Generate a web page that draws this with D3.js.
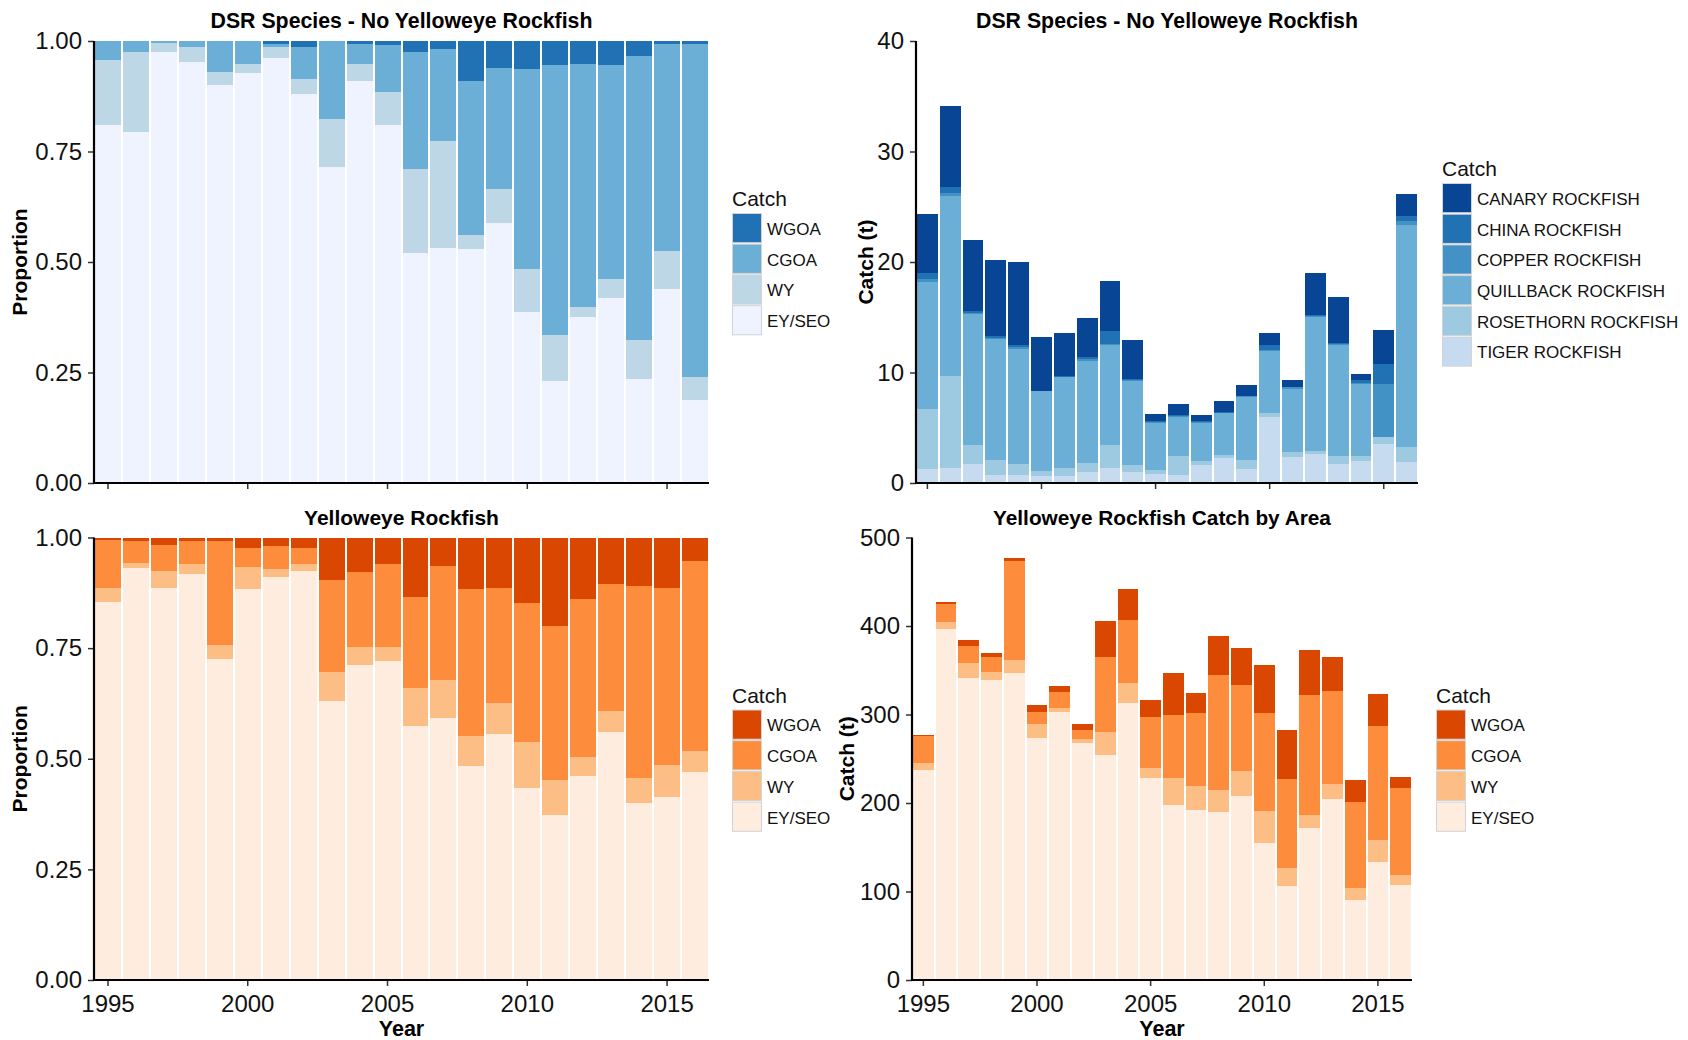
<!DOCTYPE html>
<html><head><meta charset="utf-8">
<script src="https://cdn.jsdelivr.net/npm/d3@7"></script>
<style>
body{margin:0;background:#fff;}
svg{display:block;font-family:"Liberation Sans",Arial,Helvetica,sans-serif;}
</style></head><body>
<svg id="chart" width="1688" height="1040"></svg>
<script>
// ---------- DATA ----------
const years = [1995,1996,1997,1998,1999,2000,2001,2002,2003,2004,2005,2006,2007,2008,2009,2010,2011,2012,2013,2014,2015,2016];
const xTickYears = [1995,2000,2005,2010,2015];

const areaKeys = ["EY/SEO","WY","CGOA","WGOA"];            // stacking order, bottom to top
const speciesKeys = ["TIGER ROCKFISH","ROSETHORN ROCKFISH","QUILLBACK ROCKFISH","COPPER ROCKFISH","CHINA ROCKFISH","CANARY ROCKFISH"];

// DSR (no yelloweye) proportion by area
const dsrPropEY   = [0.810,0.794,0.974,0.952,0.900,0.928,0.962,0.880,0.715,0.909,0.810,0.520,0.532,0.529,0.588,0.387,0.231,0.376,0.419,0.235,0.439,0.188];
const dsrPropWY   = [0.147,0.180,0.022,0.034,0.030,0.020,0.024,0.034,0.109,0.039,0.075,0.190,0.242,0.032,0.077,0.097,0.104,0.022,0.043,0.089,0.086,0.052];
const dsrPropCGOA = [0.043,0.026,0.004,0.014,0.070,0.052,0.008,0.072,0.176,0.046,0.106,0.265,0.208,0.349,0.274,0.453,0.611,0.550,0.484,0.642,0.469,0.754];
const dsrPropWGOA = [0.000,0.000,0.000,0.000,0.000,0.000,0.006,0.014,0.000,0.006,0.009,0.025,0.018,0.090,0.061,0.063,0.054,0.052,0.054,0.034,0.006,0.006];

// DSR (no yelloweye) catch (t) by species
const catchTiger     = [1.27,1.36,1.72,0.72,0.72,0.63,0.63,1.00,1.36,1.00,0.81,0.72,1.63,2.26,1.27,5.97,2.35,2.62,1.72,1.99,3.53,1.90];
const catchRosethorn = [5.43,8.32,1.72,1.36,1.00,0.46,0.73,0.81,2.08,0.63,0.37,1.72,0.36,0.27,0.81,0.36,0.46,0.28,0.72,0.45,0.63,1.36];
const catchQuillback = [11.49,16.29,11.85,10.95,10.41,7.24,8.23,9.23,9.05,7.60,4.25,3.53,3.44,3.80,5.70,5.62,5.74,12.12,10.05,6.52,0.00,20.09];
const catchCopper    = [0.27,0.27,0.11,0.07,0.18,0.01,0.04,0.18,0.09,0.09,0.09,0.09,0.09,0.05,0.05,0.09,0.10,0.09,0.09,0.09,4.80,0.36];
const catchChina     = [0.54,0.55,0.17,0.20,0.18,0.02,0.05,0.18,1.18,0.09,0.09,0.09,0.09,0.05,0.04,0.45,0.05,0.09,0.09,0.27,1.81,0.45];
const catchCanary    = [5.34,7.33,6.43,6.88,7.51,4.86,3.89,3.53,4.52,3.53,0.63,1.00,0.54,0.99,1.00,1.08,0.62,3.80,4.16,0.54,3.08,1.99];

// Yelloweye proportion by area
const yePropEY   = [0.855,0.930,0.886,0.918,0.726,0.884,0.911,0.925,0.631,0.711,0.720,0.573,0.591,0.483,0.555,0.435,0.374,0.462,0.561,0.399,0.413,0.471];
const yePropWY   = [0.031,0.013,0.039,0.023,0.032,0.050,0.017,0.014,0.064,0.042,0.033,0.086,0.088,0.068,0.070,0.102,0.079,0.041,0.046,0.057,0.072,0.046];
const yePropCGOA = [0.109,0.050,0.059,0.052,0.235,0.043,0.053,0.038,0.208,0.168,0.188,0.207,0.257,0.332,0.261,0.314,0.348,0.357,0.289,0.435,0.401,0.431];
const yePropWGOA = [0.005,0.007,0.016,0.007,0.007,0.023,0.019,0.023,0.097,0.079,0.059,0.134,0.064,0.117,0.114,0.149,0.199,0.140,0.104,0.109,0.114,0.052];

// Yelloweye catch (t) by area
const yeCatchEY   = [236.8,397.0,341.8,339.4,346.4,272.9,303.3,268.3,254.7,313.4,227.8,198.3,191.7,189.3,208.4,154.4,105.8,172.2,204.1,90.2,133.0,106.9];
const yeCatchWY   = [8.9,7.0,15.9,8.2,15.6,16.8,4.6,3.5,26.0,21.8,11.3,29.5,27.2,24.9,27.2,36.1,21.3,14.8,17.9,13.2,24.9,11.3];
const yeCatchCGOA = [29.5,21.3,20.2,17.9,112.0,13.6,17.9,11.2,84.8,71.9,57.6,71.2,83.2,129.9,97.2,111.6,99.6,134.5,105.0,97.2,128.6,98.4];
const yeCatchWGOA = [1.2,2.0,6.6,3.5,3.1,7.0,6.6,6.3,39.6,35.0,20.2,47.4,21.8,45.1,42.8,53.3,56.3,51.8,38.5,24.9,36.2,12.4];

const propTicks = [0,0.25,0.5,0.75,1];
const dsrCatchTicks = [0,10,20,30,40];
const yeCatchTicks = [0,100,200,300,400,500];

// ---------- STYLE ----------
const blueArea    = ["#eff3ff","#bdd7e7","#6baed6","#2171b5"];
const blueSpecies = ["#c6dbef","#9ecae1","#6baed6","#4292c6","#2171b5","#084594"];
const orangeArea  = ["#feedde","#fdbe85","#fd8d3c","#d94701"];

const svg = d3.select("#chart");

function panel(cfg){
  const g = svg.append("g");
  const x = d3.scaleBand().domain(years).range([cfg.x0, cfg.x1]).paddingInner(0).paddingOuter(0);
  const y = d3.scaleLinear().domain([0, cfg.ymax]).range([cfg.y1, cfg.y0]);
  const rows = years.map((yr,i)=>{const o={year:yr}; cfg.keys.forEach((k,j)=>o[k]=cfg.series[j][i]); return o;});
  const st = d3.stack().keys(cfg.keys);
  if (cfg.fill) st.offset(d3.stackOffsetExpand);
  const layers = st(rows);
  g.selectAll("g.layer").data(layers).join("g").attr("class","layer")
    .attr("fill",(d,i)=>cfg.colors[i])
    .selectAll("rect").data(d=>d).join("rect")
    .attr("shape-rendering","crispEdges")
    .attr("x",d=>x(d.data.year)+1)
    .attr("width",x.bandwidth()-2)
    .attr("y",d=>y(d[1]))
    .attr("height",d=>Math.max(0,y(d[0])-y(d[1])));

  // y axis
  const ya = g.append("g").attr("transform",`translate(${cfg.x0},0)`)
    .call(d3.axisLeft(y).tickValues(cfg.yticks).tickFormat(cfg.fmt).tickSizeInner(6).tickSizeOuter(0).tickPadding(6));
  // x axis
  const xa = g.append("g").attr("transform",`translate(0,${cfg.y1})`)
    .call(d3.axisBottom(x).tickValues(xTickYears).tickSizeInner(6).tickSizeOuter(0).tickPadding(9));
  [ya,xa].forEach(a=>{
    a.select(".domain").remove();
    a.selectAll(".tick line").attr("stroke","#333").attr("stroke-width",1.5);
    a.selectAll(".tick text").attr("fill","#111").style("font-size","24px");
  });
  if(!cfg.xlabels) xa.selectAll(".tick text").remove();

  // axis lines
  g.append("line").attr("x1",cfg.x0).attr("x2",cfg.x0).attr("y1",cfg.y0).attr("y2",cfg.y1+1)
    .attr("stroke","#000").attr("stroke-width",2.2);
  g.append("line").attr("x1",cfg.x0-1).attr("x2",cfg.x1).attr("y1",cfg.y1).attr("y2",cfg.y1)
    .attr("stroke","#000").attr("stroke-width",2.2);

  // title
  g.append("text").attr("x",(cfg.x0+cfg.x1)/2).attr("y",cfg.y0-13)
    .attr("text-anchor","middle").style("font-weight","bold").style("font-size",cfg.titleSize+"px").attr("fill","#000")
    .text(cfg.title);
  // y title
  const cy = (cfg.y0+cfg.y1)/2;
  g.append("text").attr("transform",`translate(${cfg.ytitleX},${cy}) rotate(-90)`)
    .attr("text-anchor","middle").style("font-weight","bold").style("font-size","21px").attr("fill","#000")
    .text(cfg.ytitle);
  if(cfg.xlabels){
    g.append("text").attr("x",(cfg.x0+cfg.x1)/2).attr("y",1036)
      .attr("text-anchor","middle").style("font-weight","bold").style("font-size","21.5px").attr("fill","#000")
      .text("Year");
  }

  // legend (top to bottom = reverse stacking order)
  const L = cfg.legend;
  const lg = g.append("g");
  lg.append("text").attr("x",L.x).attr("y",L.titleY).style("font-size","21px").attr("fill","#111").text("Catch");
  const lk = cfg.keys.slice().reverse(), lc = cfg.colors.slice().reverse();
  lk.forEach((k,i)=>{
    const ty = L.keyTop + i*30.7;
    lg.append("rect").attr("x",L.x+0.5).attr("y",ty+0.5).attr("width",29).attr("height",29.2)
      .attr("fill",lc[i]).attr("stroke","#d3d3d3").attr("stroke-width",1);
    lg.append("text").attr("x",L.x+35).attr("y",ty+16).attr("dy","0.35em")
      .style("font-size","17px").attr("fill","#111").text(k);
  });
}

panel({x0:94,x1:709,y0:41,y1:483,ymax:1,fill:true,keys:areaKeys,
  series:[dsrPropEY,dsrPropWY,dsrPropCGOA,dsrPropWGOA],colors:blueArea,
  yticks:propTicks,fmt:d3.format(".2f"),title:"DSR Species - No Yelloweye Rockfish",titleSize:21.3,
  ytitle:"Proportion",ytitleX:27,xlabels:false,legend:{x:732,titleY:206,keyTop:213}});

panel({x0:916,x1:1418,y0:41,y1:483,ymax:40,fill:false,keys:speciesKeys,
  series:[catchTiger,catchRosethorn,catchQuillback,catchCopper,catchChina,catchCanary],colors:blueSpecies,
  yticks:dsrCatchTicks,fmt:d3.format("d"),title:"DSR Species - No Yelloweye Rockfish",titleSize:21.3,
  ytitle:"Catch (t)",ytitleX:873,xlabels:false,legend:{x:1442,titleY:176,keyTop:183}});

panel({x0:94,x1:709,y0:537.5,y1:980,ymax:1,fill:true,keys:areaKeys,
  series:[yePropEY,yePropWY,yePropCGOA,yePropWGOA],colors:orangeArea,
  yticks:propTicks,fmt:d3.format(".2f"),title:"Yelloweye Rockfish",titleSize:21,
  ytitle:"Proportion",ytitleX:27,xlabels:true,legend:{x:732,titleY:703,keyTop:709.5}});

panel({x0:912,x1:1412,y0:537.5,y1:980,ymax:500,fill:false,keys:areaKeys,
  series:[yeCatchEY,yeCatchWY,yeCatchCGOA,yeCatchWGOA],colors:orangeArea,
  yticks:yeCatchTicks,fmt:d3.format("d"),title:"Yelloweye Rockfish Catch by Area",titleSize:20.8,
  ytitle:"Catch (t)",ytitleX:854,xlabels:true,legend:{x:1436,titleY:703,keyTop:709.5}});
</script>
</body></html>
